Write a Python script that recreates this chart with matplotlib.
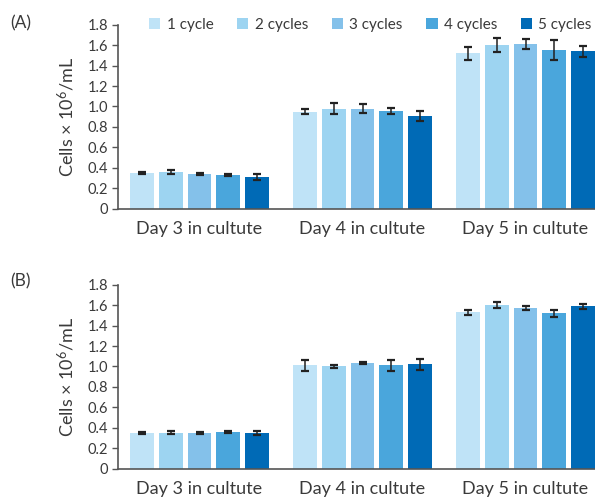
import matplotlib
matplotlib.use("Agg")
import matplotlib.pyplot as plt
import numpy as np

plt.rcParams['font.family'] = ['Lato', 'DejaVu Sans']
plt.rcParams['mathtext.fontset'] = 'custom'
plt.rcParams['mathtext.rm'] = 'Lato'
plt.rcParams['mathtext.it'] = 'Lato:italic'
plt.rcParams['mathtext.bf'] = 'Lato:bold'

categories = ["Day 3 in cultute", "Day 4 in cultute", "Day 5 in cultute"]
series = ["1 cycle", "2 cycles", "3 cycles", "4 cycles", "5 cycles"]
colors = ["#bfe3f7", "#9dd4f1", "#84c1ea", "#4aa6dc", "#006ab6"]

# Panel A values (rows: series, cols: days)
a_vals = [
    [0.35, 0.95, 1.52],
    [0.36, 0.98, 1.60],
    [0.34, 0.98, 1.61],
    [0.33, 0.96, 1.55],
    [0.31, 0.91, 1.54],
]
a_err = [
    [0.01, 0.025, 0.065],
    [0.02, 0.05, 0.067],
    [0.01, 0.047, 0.047],
    [0.01, 0.03, 0.10],
    [0.03, 0.05, 0.054],
]
# Panel B values
b_vals = [
    [0.35, 1.01, 1.53],
    [0.35, 1.00, 1.60],
    [0.35, 1.03, 1.57],
    [0.36, 1.01, 1.52],
    [0.35, 1.02, 1.59],
]
b_err = [
    [0.01, 0.054, 0.023],
    [0.015, 0.01, 0.026],
    [0.01, 0.01, 0.02],
    [0.01, 0.055, 0.037],
    [0.02, 0.05, 0.024],
]
yticks = [0, 0.2, 0.4, 0.6, 0.8, 1.0, 1.2, 1.4, 1.6, 1.8]
ytick_labels = ["0", "0.2", "0.4", "0.6", "0.8", "1.0", "1.2", "1.4", "1.6", "1.8"]

W, H = 595, 499
fig = plt.figure(figsize=(W / 100, H / 100), dpi=100)

text_color = "#3a3a3a"
spine_color = "#555555"

def panel(top_px, bottom_px, vals, errs, label, label_y, legend=False):
    left = 118 / W
    width = (3 * 163) / W
    ax = fig.add_axes([left, 1 - bottom_px / H, width, (bottom_px - top_px) / H])
    x = np.arange(len(categories))
    pitch = 0.1755
    bw = 0.147
    handles = []
    for i, (v, e) in enumerate(zip(vals, errs)):
        off = (i - 2) * pitch
        b = ax.bar(x + off, v, width=bw, color=colors[i], label=series[i], zorder=2)
        ax.errorbar(x + off, v, yerr=e, fmt='none', ecolor="#222222",
                    elinewidth=1.1, capsize=3.2, capthick=1.6, zorder=3)
        handles.append(b)
    ax.set_xlim(-0.5, 2.5)
    ax.set_ylim(0, 1.8)
    ax.set_yticks(yticks)
    ax.set_yticklabels(ytick_labels)
    ax.set_xticks(x)
    ax.set_xticklabels(categories, fontsize=13, color=text_color)
    ax.tick_params(axis='x', length=0, pad=9)
    ax.tick_params(axis='y', length=4, width=1, color=spine_color, labelsize=10.5,
                   labelcolor=text_color, pad=3)
    for s in ["top", "right"]:
        ax.spines[s].set_visible(False)
    for s in ["left", "bottom"]:
        ax.spines[s].set_color(spine_color)
        ax.spines[s].set_linewidth(1.2)
    ax.set_ylabel("Cells × 10$^{6}$/mL", fontsize=13, color=text_color, labelpad=8)
    fig.text(10 / W, 1 - label_y / H, label, fontsize=12.5, color=text_color,
             ha='left', va='center')
    if legend:
        leg = ax.legend(handles, series, loc='center left', ncol=5,
                        bbox_to_anchor=(149 / W, 1 - 24.5 / H),
                        bbox_transform=fig.transFigure,
                        frameon=False, fontsize=11, handlelength=0.75,
                        handleheight=0.75, handletextpad=0.4, columnspacing=1.55,
                        borderaxespad=0, borderpad=0)
        for t in leg.get_texts():
            t.set_color(text_color)
    return ax

panel(24.7, 208.7, a_vals, a_err, "(A)", 23, legend=True)
panel(284.7, 468.7, b_vals, b_err, "(B)", 281)

fig.savefig("out.png", dpi=100)
